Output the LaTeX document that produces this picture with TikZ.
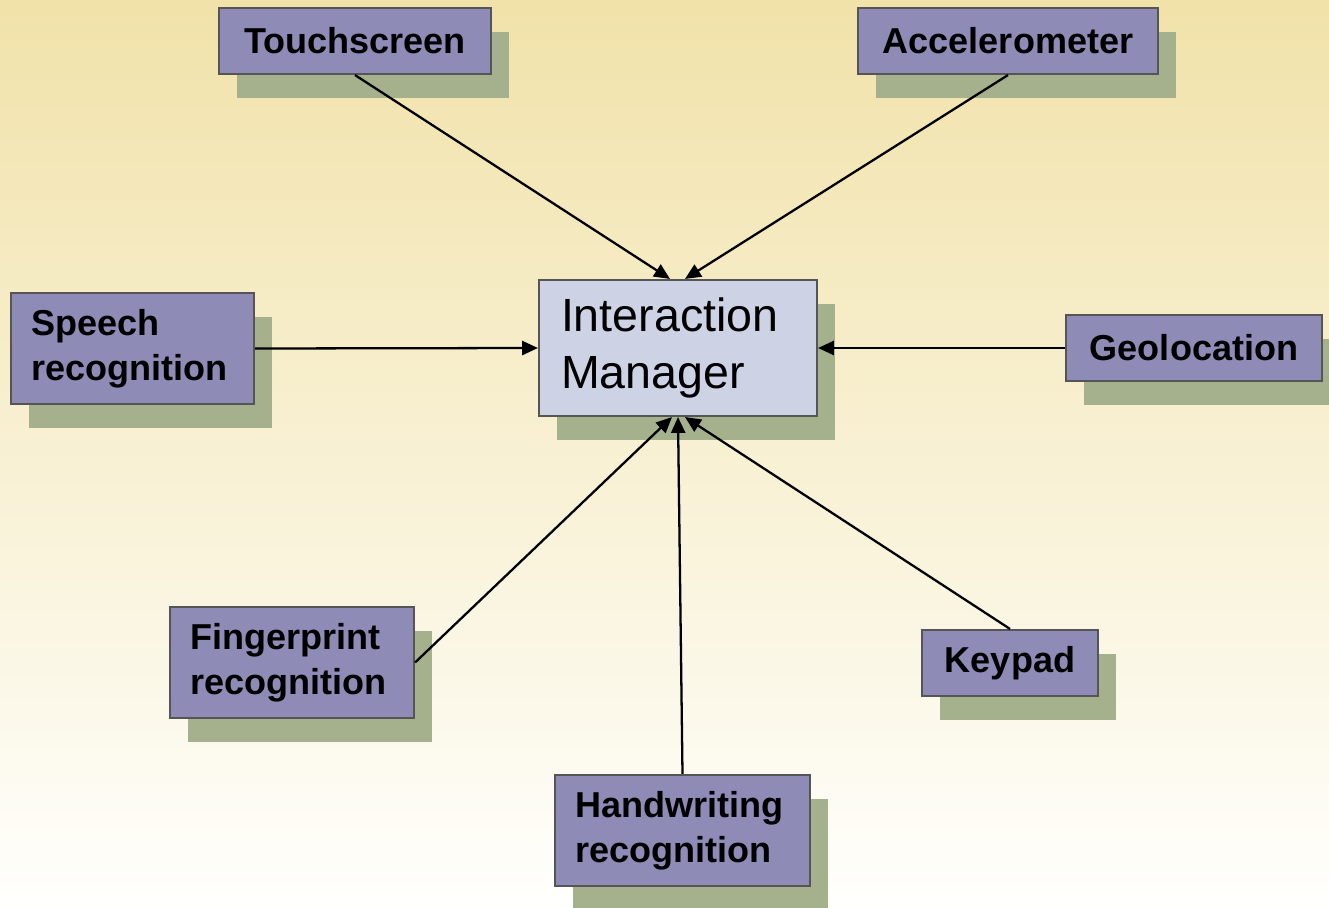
\documentclass[tikz,border=0pt]{standalone}
\usepackage{fontspec}
\setmainfont{Liberation Sans}
\usetikzlibrary{shadows, arrows.meta}

\definecolor{bgtop}{HTML}{F1E2A9}
\definecolor{bgbottom}{HTML}{FFFFFD}
\definecolor{inputfill}{HTML}{8E8BB6}
\definecolor{managerfill}{HTML}{CDD3E5}
\definecolor{boxline}{HTML}{555555}
\definecolor{shadowgreen}{HTML}{A4B18C}

\begin{document}
\begin{tikzpicture}[
    input/.style={rectangle, draw=boxline, line width=1.2pt, fill=inputfill, align=left,
        inner sep=0pt, minimum height=1.32cm, font=\fontsize{20.5}{25.5}\selectfont\bfseries,
        drop shadow={shadow xshift=0.36cm, shadow yshift=-0.48cm, fill=shadowgreen, opacity=1}},
    twoline/.style={input, inner xsep=0.4cm, text width=#1, minimum height=2.22cm},
    manager/.style={input, fill=managerfill, inner xsep=0.44cm, text width=4.68cm,
        minimum height=2.72cm, font=\fontsize{26.5}{32}\selectfont},
    arrow/.style={-{Triangle[length=9pt, width=8pt]}, line width=1.3pt}
]
    % background
    \useasboundingbox (0,0) rectangle (26.58,-18.16);
    \shade[top color=bgtop, bottom color=bgbottom] (0,0) rectangle (26.58,-18.16);

    \node[manager] (manager) at (13.56,-6.96) {Interaction\\Manager};
    \node[input, minimum width=5.44cm] (touch) at (7.10,-0.82) {Touchscreen};
    \node[input, minimum width=6.0cm] (accel) at (20.16,-0.82) {Accelerometer};
    \node[twoline=4.06cm] (speech) at (2.65,-6.97) {Speech\\recognition};
    \node[input, minimum width=5.12cm] (geo) at (23.88,-6.96) {Geolocation};
    \node[twoline=4.08cm] (finger) at (5.84,-13.25) {Fingerprint\\recognition};
    \node[input, minimum width=3.52cm] (keypad) at (20.2,-13.26) {Keypad};
    \node[twoline=4.3cm] (hand) at (13.65,-16.61) {Handwriting\\recognition};

    \draw[arrow] (touch.south) -- ([xshift=-0.16cm]manager.north);
    \draw[arrow] (accel.south) -- ([xshift=0.14cm]manager.north);
    \draw[arrow] (speech.east) -- (manager.west);
    \draw[arrow] (geo.west) -- (manager.east);
    \draw[arrow] (finger.east) -- ([xshift=-0.12cm]manager.south);
    \draw[arrow] (keypad.north) -- ([xshift=0.14cm]manager.south);
    \draw[arrow] (hand.north) -- (manager.south);
\end{tikzpicture}
\end{document}
